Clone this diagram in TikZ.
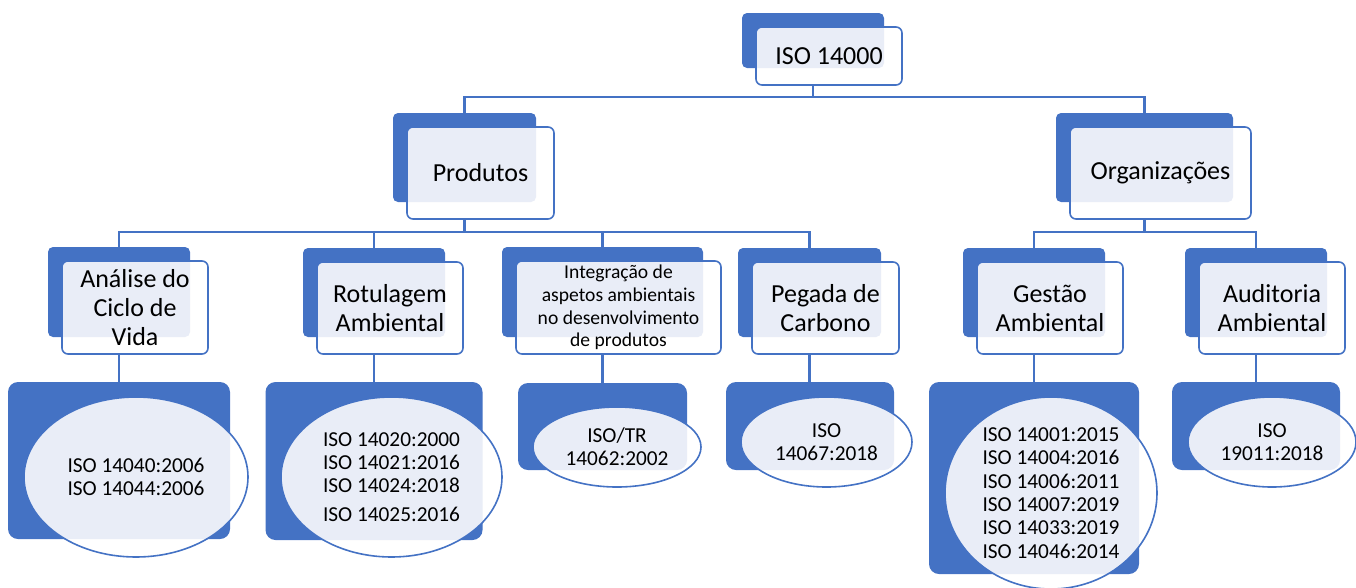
\documentclass[tikz,border=0pt]{standalone}
\usepackage{fontspec}
\setmainfont{Carlito}
\usetikzlibrary{shapes.geometric,calc}
\definecolor{myblue}{HTML}{4472C4}
\definecolor{lightfill}{HTML}{E9EDF7}
\pgfdeclarelayer{background}
\pgfsetlayers{background,main}
\tikzset{
 bluebox/.style={fill=myblue, rounded corners=5pt, inner sep=0pt, outer sep=0pt, draw=none},
 leafblue/.style={fill=myblue, rounded corners=10pt, inner sep=0pt, outer sep=0pt, draw=none},
 frontbox/.style={fill=white, inner sep=0pt, outer sep=0pt, rounded corners=6pt},
 leafell/.style={ellipse, fill=white, inner sep=0pt, outer sep=0pt},
 outline/.style={draw=myblue, line width=1.6pt},
 conn/.style={draw=myblue, line width=2.2pt},
 tiertext/.style={align=center, font=\fontsize{26}{29}\selectfont, text=black, inner sep=0pt},
 leaftext/.style={align=center, font=\fontsize{21.3}{23.3}\selectfont, text=black, inner sep=0pt},
 smalltier/.style={font=\fontsize{19.6}{22.7}\selectfont},
}
% #1 optional text style, #2 name, #3 cx, #4 cy, #5 w, #6 h, #7 text
\newcommand{\tierbox}[7][]{%
  \node[bluebox, minimum width=#5pt, minimum height=#6pt] (#2b) at (#3,#4) {};
  \node[frontbox, minimum width=#5pt+4pt, minimum height=#6pt+3pt] (#2) at ([shift={(16pt,-15.5pt)}]#2b.center) {};
  \begin{scope}
    \clip[rounded corners=5pt] (#2b.south west) rectangle (#2b.north east);
    \fill[lightfill, rounded corners=6pt] (#2.south west) rectangle (#2.north east);
  \end{scope}
  \draw[outline, rounded corners=6pt] (#2.south west) rectangle (#2.north east);
  \node[tiertext,#1] (#2t) at (#2.center) {#7};
}
% #1 name, #2 blue center, #3 bw, #4 bh, #5 ellipse center, #6 ew, #7 eh, #8 text
\newcommand{\leafbox}[8]{%
  \node[leafblue, minimum width=#3pt, minimum height=#4pt] (#1b) at #2 {};
  \node[leafell, minimum width=#6pt, minimum height=#7pt] (#1) at #5 {};
  \begin{scope}
    \clip[rounded corners=10pt] (#1b.south west) rectangle (#1b.north east);
    \fill[lightfill] (#1.center) ellipse [x radius=#6pt/2, y radius=#7pt/2];
  \end{scope}
  \draw[outline] (#1.center) ellipse [x radius=#6pt/2, y radius=#7pt/2];
  \node[leaftext] (#1t) at (#1.center) {#8};
}
\begin{document}
\begin{tikzpicture}[x=1pt,y=-1pt]
\useasboundingbox (0,0) rectangle (1356,587);
\coordinate (bar0) at (0,97);
\coordinate (bar1) at (0,232);

\tierbox{root}{813}{40.5}{142}{55}{ISO 14000}
\tierbox{prod}{464.5}{157.5}{143}{89}{Produtos}
\tierbox{org}{1144.5}{157.5}{177}{89}{Organizações}
\tierbox{acv}{119}{292}{142}{90}{Análise do\\Ciclo de\\Vida}
\tierbox{rot}{374}{292.5}{142}{89}{Rotulagem\\Ambiental}
\tierbox[smalltier]{int}{602.5}{292}{201}{90}{Integração de\\aspetos ambientais\\no desenvolvimento\\de produtos}
\tierbox{peg}{809.5}{292.5}{143}{89}{Pegada de\\Carbono}
\tierbox{ges}{1034}{292.5}{142}{89}{Gestão\\Ambiental}
\tierbox{aud}{1256}{292.5}{142}{89}{Auditoria\\Ambiental}

\leafbox{acvl}{(119,460.5)}{222}{157}{(136,477)}{224}{160}{ISO 14040:2006\\ISO 14044:2006}
\leafbox{rotl}{(374,461)}{217}{158}{(391.5,477)}{221}{160}{ISO 14020:2000\\ISO 14021:2016\\ISO 14024:2018\\[5pt]ISO 14025:2016}
\leafbox{intl}{(602.5,426.5)}{169}{87}{(617,447)}{168}{80}{ISO/TR\\14062:2002}
\leafbox{pegl}{(810,426)}{168}{88}{(826.5,442)}{171}{90}{ISO\\14067:2018}
\leafbox{gesl}{(1034,478)}{210}{192}{(1051,493)}{212}{192}{ISO 14001:2015\\ISO 14004:2016\\ISO 14006:2011\\ISO 14007:2019\\ISO 14033:2019\\ISO 14046:2014}
\leafbox{audl}{(1256,426)}{168}{88}{(1272,442)}{168}{90}{ISO\\19011:2018}

\begin{pgfonlayer}{background}
\draw[conn] (rootb.south) -- (rootb.south |- bar0) -| (prodb.north);
\draw[conn] (rootb.south |- bar0) -| (orgb.north);
\foreach \c in {acvb,rotb,intb,pegb}
  \draw[conn] (prodb.south) -- (prodb.south |- bar1) -| (\c.north);
\foreach \c in {gesb,audb}
  \draw[conn] (orgb.south) -- (orgb.south |- bar1) -| (\c.north);
\foreach \c in {acv,rot,int,peg,ges,aud}
  \draw[conn] (\c b.south) -- (\c b.south |- \c lb.north);
\end{pgfonlayer}
\end{tikzpicture}
\end{document}
